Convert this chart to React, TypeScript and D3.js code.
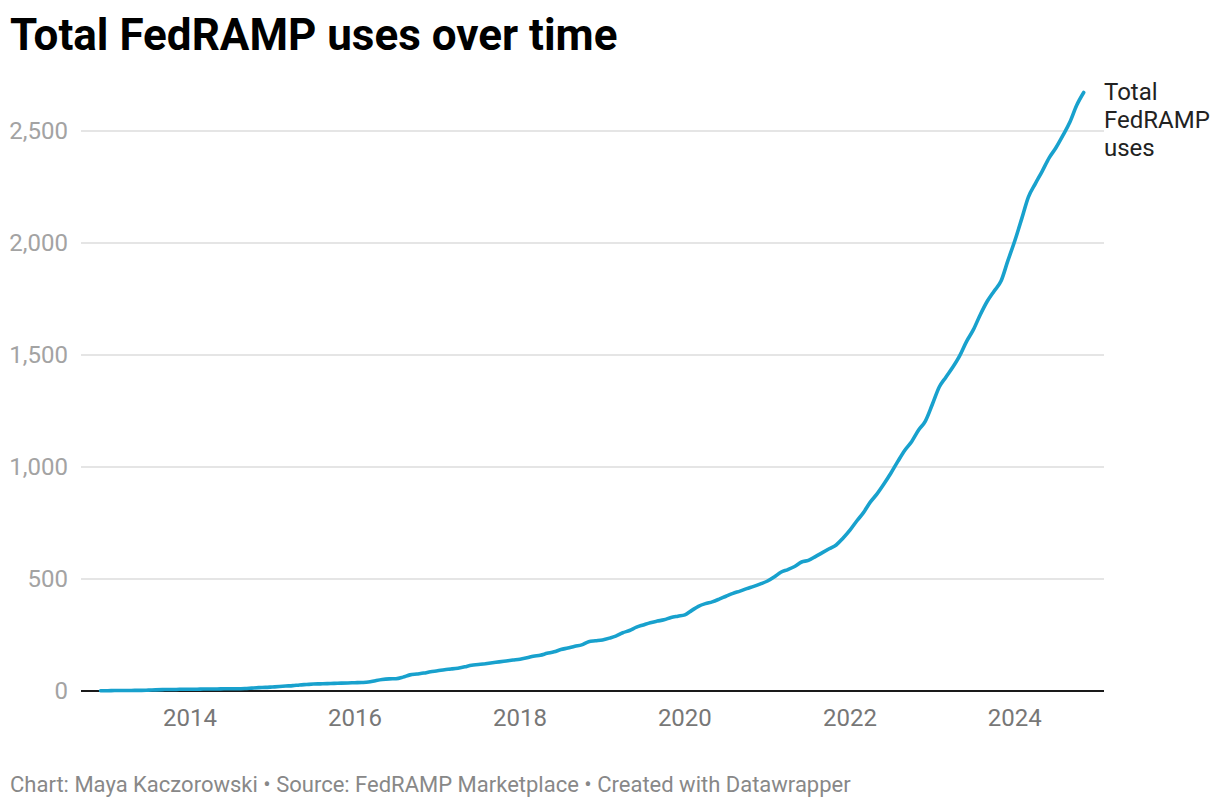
import React from "react";
import * as d3 from "d3";

const W = 1220;
const H = 808;

// monthly totals, first point is Dec 2012
const START = new Date(2012, 11, 1);
const uses2012 = [1];
const uses2013 = [1, 2, 2, 2, 3, 3, 4, 5, 6, 7, 7, 8];
const uses2014 = [8, 8, 9, 9, 9, 10, 10, 10, 11, 13, 15, 16];
const uses2015 = [18, 20, 22, 24, 27, 29, 31, 32, 33, 34, 35, 36];
const uses2016 = [37, 38, 40, 46, 51, 54, 55, 62, 72, 76, 80, 86];
const uses2017 = [90, 95, 98, 102, 108, 115, 118, 122, 126, 130, 134, 138];
const uses2018 = [142, 148, 155, 160, 168, 175, 185, 192, 200, 206, 220, 224];
const uses2019 = [228, 236, 245, 260, 270, 285, 295, 305, 312, 318, 328, 334];
const uses2020 = [340, 360, 378, 390, 398, 410, 423, 436, 446, 457, 467, 478];
const uses2021 = [491, 510, 530, 542, 556, 576, 583, 600, 618, 635, 652, 682];
const uses2022 = [718, 760, 795, 843, 880, 925, 972, 1025, 1075, 1113, 1165, 1205];
const uses2023 = [1280, 1358, 1400, 1445, 1495, 1560, 1612, 1680, 1740, 1785, 1830, 1920];
const uses2024 = [2010, 2110, 2205, 2265, 2320, 2380, 2425, 2480, 2540, 2615, 2672];

const yTicks = [0, 500, 1000, 1500, 2000, 2500];
const xTickYears = [2014, 2016, 2018, 2020, 2022, 2024];
const labelLines = ["Total", "FedRAMP", "uses"];

const FONT = "Roboto, 'Noto Sans', sans-serif";

type Pt = { date: Date; value: number };

export default function App() {
  const values = [
    ...uses2012, ...uses2013, ...uses2014, ...uses2015, ...uses2016, ...uses2017,
    ...uses2018, ...uses2019, ...uses2020, ...uses2021, ...uses2022, ...uses2023, ...uses2024,
  ];
  const points: Pt[] = values.map((v, i) => ({
    date: d3.timeMonth.offset(START, i),
    value: v,
  }));

  const x = d3
    .scaleTime()
    .domain([points[0].date, points[points.length - 1].date])
    .range([100.6, 1083.7]);
  const y = d3.scaleLinear().domain([0, 2500]).range([691, 131]);

  const gridLeft = 81;
  const gridRight = 1104;

  const path = d3
    .line<Pt>()
    .x((d) => x(d.date))
    .y((d) => y(d.value))
    .curve(d3.curveMonotoneX)(points);

  const fmt = d3.format(",");

  return (
    <svg
      width={W}
      height={H}
      style={{ position: "absolute", left: 0, top: 0, background: "#fff" }}
      fontFamily={FONT}
    >
      <text x={10} y={50} fontSize={44} fontWeight={700} fill="#000">
        Total FedRAMP uses over time
      </text>

      {/* grid + y labels */}
      {yTicks.map((t) => (
        <g key={t}>
          {t !== 0 && (
            <line
              x1={gridLeft}
              x2={gridRight}
              y1={y(t)}
              y2={y(t)}
              stroke="#e5e5e5"
              strokeWidth={2}
            />
          )}
          <text
            x={68}
            y={y(t)}
            dy="0.35em"
            textAnchor="end"
            fontSize={24}
            fill="#a3a3a3"
          >
            {fmt(t)}
          </text>
        </g>
      ))}

      {/* x labels */}
      {xTickYears.map((yr) => (
        <text
          key={yr}
          x={x(new Date(yr, 0, 1))}
          y={726}
          textAnchor="middle"
          fontSize={24}
          fill="#777"
        >
          {yr}
        </text>
      ))}

      <line
        x1={gridLeft}
        x2={gridRight}
        y1={y(0)}
        y2={y(0)}
        stroke="#1a1a1a"
        strokeWidth={2}
      />

      <path
        d={path ?? ""}
        fill="none"
        stroke="#18a1cd"
        strokeWidth={3.6}
        strokeLinejoin="round"
        strokeLinecap="round"
      />

      <text x={gridRight} y={100} fontSize={24} fill="#222">
        {labelLines.map((s, i) => (
          <tspan key={s} x={gridRight} y={100 + i * 28}>
            {s}
          </tspan>
        ))}
      </text>

      <text x={10} y={792} fontSize={22} fill="#888">
        Chart: Maya Kaczorowski • Source: FedRAMP Marketplace • Created with Datawrapper
      </text>
    </svg>
  );
}
